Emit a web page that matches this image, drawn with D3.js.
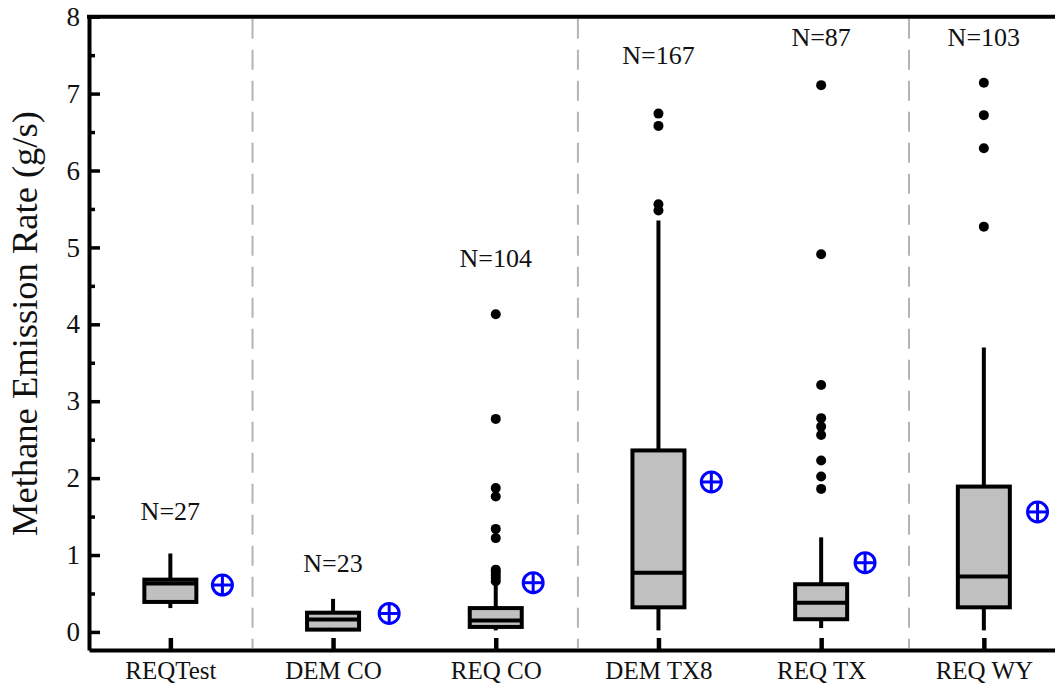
<!DOCTYPE html>
<html>
<head>
<meta charset="utf-8">
<script src="https://cdn.jsdelivr.net/npm/d3@7"></script>
<style>
  html, body { margin: 0; padding: 0; background: #fff; }
  svg { display: block; }
  text { font-family: "Liberation Serif", "Times New Roman", serif; fill: #111; }
</style>
</head>
<body>
<svg id="chart" width="1055" height="683"></svg>
<script>
// ---- data ----
const categories = ["REQTest", "DEM CO", "REQ CO", "DEM TX8", "REQ TX", "REQ WY"];
const nLabels    = ["N=27", "N=23", "N=104", "N=167", "N=87", "N=103"];
const nLabelY    = [1.46, 0.78, 4.75, 7.39, 7.62, 7.62];
const whiskLo    = [0.31, 0.01, 0.02, 0.02, 0.05, 0.02];
const q1         = [0.39, 0.03, 0.065, 0.32, 0.165, 0.32];
const median     = [0.63, 0.16, 0.15, 0.77, 0.38, 0.72];
const q3         = [0.68, 0.25, 0.31, 2.36, 0.62, 1.89];
const whiskHi    = [1.02, 0.43, 0.64, 5.35, 1.23, 3.70];
const means      = [0.61, 0.24, 0.64, 1.95, 0.90, 1.56];
const outliers   = [
  [],
  [],
  [0.66, 0.70, 0.74, 0.78, 0.81, 1.22, 1.34, 1.76, 1.87, 2.77, 4.13],
  [5.48, 5.56, 6.58, 6.74],
  [1.86, 2.02, 2.23, 2.56, 2.67, 2.78, 3.21, 4.91, 7.11],
  [5.27, 6.29, 6.72, 7.14]
];
const yTicks      = [0, 1, 2, 3, 4, 5, 6, 7, 8];
const yMinorTicks = [0.5, 1.5, 2.5, 3.5, 4.5, 5.5, 6.5, 7.5];
const separators  = [0.505, 2.505, 4.54];
const meanShift   = [0.32, 0.345, 0.23, 0.325, 0.27, 0.33];
const yTitle = "Methane Emission Rate (g/s)";

// ---- layout ----
const svg = d3.select("#chart");
const padL = 89, padB = 650, padT = 16.7;
const x = d3.scaleLinear().domain([-0.5, 5.5]).range([padL, padL + 6 * 162.7]);
const y = d3.scaleLinear().domain([-0.235, 8]).range([padB, padT]);
const boxW = 52;

// separators
svg.append("g").selectAll("line").data(separators).join("line")
  .attr("x1", d => x(d)).attr("x2", d => x(d))
  .attr("y1", padT + 2).attr("y2", padB - 2)
  .attr("stroke", "#b4b4b4").attr("stroke-width", 2)
  .attr("stroke-dasharray", "20,11");

// boxes
const g = svg.append("g");
categories.forEach((c, i) => {
  const cx = x(i);
  const gi = g.append("g");
  gi.append("line").attr("x1", cx).attr("x2", cx)
    .attr("y1", y(q3[i])).attr("y2", y(whiskHi[i]))
    .attr("stroke", "#000").attr("stroke-width", 4);
  gi.append("line").attr("x1", cx).attr("x2", cx)
    .attr("y1", y(q1[i])).attr("y2", y(whiskLo[i]))
    .attr("stroke", "#000").attr("stroke-width", 4);
  gi.append("rect")
    .attr("x", cx - boxW / 2).attr("width", boxW)
    .attr("y", y(q3[i])).attr("height", y(q1[i]) - y(q3[i]))
    .attr("fill", "#c0c0c0").attr("stroke", "#000").attr("stroke-width", 4);
  gi.append("line").attr("x1", cx - boxW / 2).attr("x2", cx + boxW / 2)
    .attr("y1", y(median[i])).attr("y2", y(median[i]))
    .attr("stroke", "#000").attr("stroke-width", 4);
  gi.selectAll("circle.out").data(outliers[i]).join("circle")
    .attr("class", "out")
    .attr("cx", cx).attr("cy", d => y(d)).attr("r", 5)
    .attr("fill", "#000");
  const mx = x(i + meanShift[i]), my = y(means[i]), r = 10;
  gi.append("circle").attr("cx", mx).attr("cy", my).attr("r", r)
    .attr("fill", "none").attr("stroke", "#0000ff").attr("stroke-width", 3);
  gi.append("line").attr("x1", mx - r).attr("x2", mx + r).attr("y1", my).attr("y2", my)
    .attr("stroke", "#0000ff").attr("stroke-width", 3);
  gi.append("line").attr("x1", mx).attr("x2", mx).attr("y1", my - r).attr("y2", my + r)
    .attr("stroke", "#0000ff").attr("stroke-width", 3);
  gi.append("text").attr("x", cx).attr("y", y(nLabelY[i]))
    .attr("text-anchor", "middle").attr("font-size", 26)
    .text(nLabels[i]);
});

// y axis minor ticks
svg.append("g").attr("transform", `translate(${padL},0)`)
  .call(d3.axisLeft(y).tickValues(yMinorTicks).tickSize(-6).tickSizeOuter(0).tickFormat(""))
  .call(a => a.select(".domain").remove())
  .call(a => a.selectAll("line").attr("stroke", "#000").attr("stroke-width", 3.5));

// y axis major
svg.append("g").attr("transform", `translate(${padL},0)`)
  .call(d3.axisLeft(y).tickValues(yTicks).tickSize(-11).tickSizeOuter(0).tickPadding(9).tickFormat(d3.format("d")))
  .call(a => a.select(".domain").attr("stroke", "#000").attr("stroke-width", 4))
  .call(a => a.selectAll("line").attr("stroke", "#000").attr("stroke-width", 3.5))
  .call(a => a.selectAll("text").attr("font-size", 27).attr("font-family", "Liberation Serif").attr("fill", "#111"));

// x axis
svg.append("g").attr("transform", `translate(0,${padB})`)
  .call(d3.axisBottom(x).tickValues(d3.range(categories.length)).tickSize(-12).tickSizeOuter(0).tickPadding(11)
    .tickFormat(i => categories[i]))
  .call(a => a.select(".domain").attr("stroke", "#000").attr("stroke-width", 4))
  .call(a => a.selectAll("line").attr("stroke", "#000").attr("stroke-width", 4.5))
  .call(a => a.selectAll("text").attr("font-size", 25).attr("font-family", "Liberation Serif").attr("fill", "#111"));

// top frame line
svg.append("line").attr("x1", padL - 2).attr("x2", x(5.5)).attr("y1", padT).attr("y2", padT)
  .attr("stroke", "#000").attr("stroke-width", 4);

// y title
svg.append("text")
  .attr("transform", `translate(37,323.5) rotate(-90)`)
  .attr("text-anchor", "middle").attr("font-size", 36.5)
  .text(yTitle);
</script>
</body>
</html>
